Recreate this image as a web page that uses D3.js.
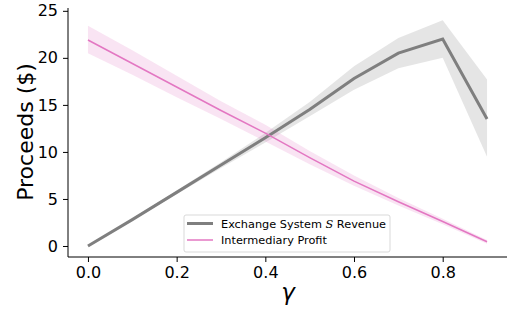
<!DOCTYPE html>
<html>
<head>
<meta charset="utf-8">
<script src="https://cdn.jsdelivr.net/npm/d3@7"></script>
<style>
  body { margin: 0; background: #fff; }
  svg { display: block; font-family: "DejaVu Sans", sans-serif; }
</style>
</head>
<body>
<div id="chart"></div>
<script>
// gamma values
const gammas = [0.0, 0.1, 0.2, 0.3, 0.4, 0.5, 0.6, 0.7, 0.8, 0.9];

// Exchange System S revenue (mean, lower, upper)
const revenue = [0.0, 2.8, 5.7, 8.6, 11.5, 14.5, 17.8, 20.5, 22.0, 13.5];
const revenueLow = [0.0, 2.7, 5.5, 8.3, 11.0, 13.8, 16.6, 18.9, 20.0, 9.5];
const revenueHigh = [0.0, 2.9, 5.9, 8.9, 12.0, 15.3, 19.1, 22.1, 24.0, 17.7];

// Intermediary profit (mean, lower, upper)
const profit = [21.9, 19.4, 16.9, 14.4, 12.0, 9.4, 6.9, 4.7, 2.6, 0.45];
const profitLow = [20.5, 18.2, 15.8, 13.5, 11.1, 8.7, 6.4, 4.3, 2.3, 0.25];
const profitHigh = [23.4, 20.8, 18.1, 15.4, 12.9, 10.1, 7.5, 5.1, 2.9, 0.65];

const xTicks = [0.0, 0.2, 0.4, 0.6, 0.8];
const yTicks = [0, 5, 10, 15, 20, 25];

const width = 509;
const height = 312;
const margin = { top: 8, right: 2, bottom: 55, left: 68 };

const svg = d3.select('#chart')
  .append('svg')
  .attr('width', width)
  .attr('height', height);

const xScale = d3.scaleLinear()
  .domain([-0.045, 0.945])
  .range([margin.left, width - margin.right]);

const yScale = d3.scaleLinear()
  .domain([-1.17, 25.3])
  .range([height - margin.bottom, margin.top]);

const rows = gammas.map((g, i) => ({
  g,
  rev: revenue[i], revLo: revenueLow[i], revHi: revenueHigh[i],
  pro: profit[i], proLo: profitLow[i], proHi: profitHigh[i]
}));

// bands
const band = (lo, hi) => d3.area()
  .x((d) => xScale(d.g))
  .y0((d) => yScale(d[lo]))
  .y1((d) => yScale(d[hi]));

svg.append('path')
  .attr('d', band('revLo', 'revHi')(rows))
  .attr('fill', '#7f7f7f')
  .attr('fill-opacity', 0.2);

svg.append('path')
  .attr('d', band('proLo', 'proHi')(rows))
  .attr('fill', '#e377c2')
  .attr('fill-opacity', 0.2);

// lines
const line = (key) => d3.line()
  .x((d) => xScale(d.g))
  .y((d) => yScale(d[key]));

svg.append('path')
  .attr('d', line('rev')(rows))
  .attr('fill', 'none')
  .attr('stroke', '#7f7f7f')
  .attr('stroke-width', 3);

svg.append('path')
  .attr('d', line('pro')(rows))
  .attr('fill', 'none')
  .attr('stroke', '#e377c2')
  .attr('stroke-width', 1.5);

// axes
const xAxis = svg.append('g')
  .attr('transform', `translate(0, ${height - margin.bottom})`)
  .call(d3.axisBottom(xScale).tickValues(xTicks).tickFormat(d3.format('.1f')).tickSize(5).tickPadding(5));

const yAxis = svg.append('g')
  .attr('transform', `translate(${margin.left}, 0)`)
  .call(d3.axisLeft(yScale).tickValues(yTicks).tickSize(5).tickPadding(5));

[xAxis, yAxis].forEach((ax) => {
  ax.attr('font-size', 16).attr('font-family', '"DejaVu Sans", sans-serif');
  ax.select('.domain').attr('stroke', '#000').attr('stroke-width', 1);
  ax.selectAll('.tick line').attr('stroke', '#000');
  ax.selectAll('.tick text').attr('fill', '#000');
});
// plain spines without outer tick ends
xAxis.select('.domain').attr('d', `M${margin.left},0H${width - margin.right}`);
yAxis.select('.domain').attr('d', `M0,${margin.top}V${height - margin.bottom}`);

// axis labels
svg.append('text')
  .attr('transform', `translate(25, 132) rotate(-90)`)
  .attr('text-anchor', 'middle')
  .attr('dominant-baseline', 'central')
  .style('font-size', '22px')
  .text('Proceeds ($)');

svg.append('text')
  .attr('x', 288)
  .attr('y', 300)
  .attr('text-anchor', 'middle')
  .style('font-size', '23px')
  .style('font-style', 'italic')
  .text('γ');

// legend
const legend = svg.append('g').attr('transform', 'translate(184, 215)');
legend.append('rect')
  .attr('width', 206)
  .attr('height', 37)
  .attr('rx', 2)
  .attr('fill', '#fff')
  .attr('fill-opacity', 0.8)
  .attr('stroke', '#d9d9d9');

const legendItems = [
  { label: 'Exchange System ', italic: 'S', after: ' Revenue', color: '#7f7f7f', w: 3 },
  { label: 'Intermediary Profit', color: '#e377c2', w: 1.5 }
];

legendItems.forEach((item, i) => {
  const y = 8.5 + i * 16.5;
  legend.append('line')
    .attr('x1', 3).attr('x2', 29)
    .attr('y1', y).attr('y2', y)
    .attr('stroke', item.color)
    .attr('stroke-width', item.w);
  const t = legend.append('text')
    .attr('x', 37)
    .attr('y', y)
    .attr('dominant-baseline', 'central')
    .style('font-size', '11.3px');
  t.append('tspan').text(item.label);
  if (item.italic) {
    t.append('tspan').style('font-style', 'italic').style('font-family', '"DejaVu Serif", serif').text(item.italic);
    t.append('tspan').text(item.after);
  }
});
</script>
</body>
</html>
